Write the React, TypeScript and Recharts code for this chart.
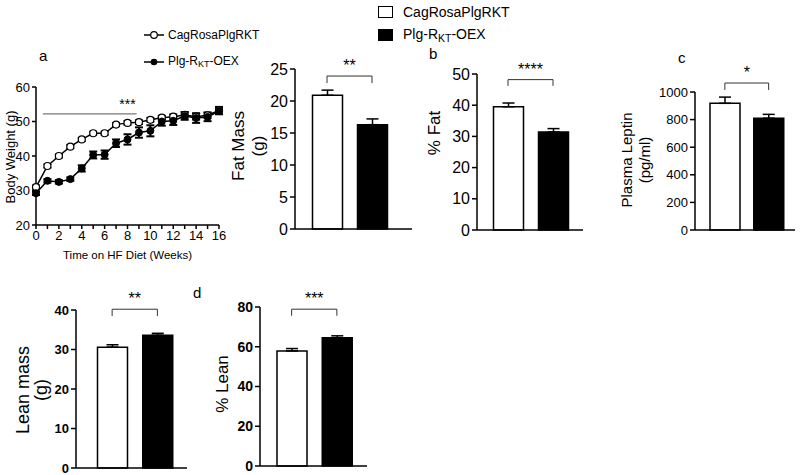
import React from 'react';
import {
  BarChart, Bar, Cell, XAxis, YAxis, ErrorBar, ReferenceLine, LineChart, Line,
} from 'recharts';

const groups = ['CagRosaPlgRKT', 'Plg-RKT-OEX'];

// body weight over time on HF diet
const weeks = [0, 1, 2, 3, 4, 5, 6, 7, 8, 9, 10, 11, 12, 13, 14, 15, 16];
const ctrlWeight = [31.0, 37.1, 40.0, 42.7, 44.8, 46.6, 46.6, 49.1, 49.6, 49.8, 50.5, 51.1, 51.4, 51.9, 51.4, 51.8, 53.2];
const ctrlWeightErr = [0.5, 0.5, 0.5, 0.5, 0.5, 0.5, 0.5, 0.5, 0.6, 0.6, 0.6, 0.6, 0.7, 0.9, 0.9, 0.9, 1.1];
const oexWeight = [29.2, 32.8, 32.5, 33.3, 36.4, 40.3, 40.4, 43.7, 44.8, 46.8, 47.3, 50.0, 50.2, 51.6, 51.0, 51.3, 53.0];
const oexWeightErr = [0.5, 0.5, 0.5, 0.5, 0.9, 1.0, 1.2, 1.1, 1.5, 1.5, 1.6, 1.2, 1.2, 1.1, 1.4, 1.2, 0.9];

// bar panels: [CagRosaPlgRKT, Plg-RKT-OEX]
const fatMass = [20.9, 16.3];
const fatMassErr = [0.8, 0.9];
const fatPct = [39.5, 31.4];
const fatPctErr = [1.2, 1.1];
const leptin = [918, 810];
const leptinErr = [45, 28];
const leanMass = [30.6, 33.6];
const leanMassErr = [0.6, 0.5];
const leanPct = [57.9, 64.5];
const leanPctErr = [1.2, 1.0];

const FONT = '"Liberation Sans", Arial, Helvetica, sans-serif';
const AXIS = { stroke: '#000', strokeWidth: 1.5 };

const lineRows = weeks.map((w, i) => ({
  week: w,
  ctrl: ctrlWeight[i],
  ctrlErr: ctrlWeightErr[i],
  oex: oexWeight[i],
  oexErr: oexWeightErr[i],
}));

// plot area = [top+30, top+height-15]
function BarPanel(props: any) {
  const { left, top, width, height, yWidth, values, errs, domain, ticks, pad, sig, fontSize, bold } = props;
  const data = groups.map((g, i) => ({ group: g, value: values[i], err: [0, errs[i]] }));
  return (
    <div style={{ position: 'absolute', left, top }}>
      <BarChart width={width} height={height} data={data} margin={{ top: 30, right: 5, bottom: 10, left: 0 }}>
        <XAxis dataKey="group" tick={false} tickLine={false} height={5} padding={pad} axisLine={AXIS} />
        <YAxis
          domain={domain} ticks={ticks} width={yWidth} interval={0} tickSize={5}
          tick={{ fontSize, fill: '#000', fontWeight: bold ? 700 : 400 }}
          axisLine={AXIS} tickLine={AXIS}
        />
        <Bar dataKey="value" barSize={30} stroke="#000" strokeWidth={1.5} isAnimationActive={false}>
          {data.map((d, i) => <Cell key={d.group} fill={i === 0 ? '#fff' : '#000'} />)}
          <ErrorBar dataKey="err" width={6} stroke="#000" strokeWidth={1.5} direction="y" />
        </Bar>
        <ReferenceLine
          segment={[{ x: groups[0], y: sig.top }, { x: groups[1], y: sig.top }]}
          stroke="#333" ifOverflow="visible"
          label={{ value: sig.text, position: 'top', fill: '#000', fontSize: 16 }}
        />
        <ReferenceLine segment={[{ x: groups[0], y: sig.top }, { x: groups[0], y: sig.leg }]} stroke="#333" ifOverflow="visible" />
        <ReferenceLine segment={[{ x: groups[1], y: sig.top }, { x: groups[1], y: sig.leg }]} stroke="#333" ifOverflow="visible" />
      </BarChart>
    </div>
  );
}

function Txt({ x, y, size, bold, children }: any) {
  return (
    <div style={{
      position: 'absolute', left: x, top: y, transform: 'translateY(-50%)',
      fontSize: size, fontWeight: bold ? 700 : 400, whiteSpace: 'nowrap', lineHeight: 1,
    }}>
      {children}
    </div>
  );
}

// rotated y-axis title, centred on (x, y)
function RotLabel({ x, y, size, lines, lh = 1.2 }: any) {
  return (
    <div style={{
      position: 'absolute', left: x, top: y, transform: 'translate(-50%, -50%) rotate(-90deg)',
      fontSize: size, whiteSpace: 'nowrap', textAlign: 'center', lineHeight: lh,
    }}>
      {lines.map((l: string) => <div key={l}>{l}</div>)}
    </div>
  );
}

const OexName = () => (
  <span>Plg-R<span style={{ fontSize: '0.75em', verticalAlign: '-0.25em' }}>KT</span>-OEX</span>
);

export default function App() {
  return (
    <div style={{
      position: 'absolute', left: 0, top: 0, width: 800, height: 475, background: '#fff',
      overflow: 'hidden', fontFamily: FONT, color: '#000',
    }}>
      {/* main legend */}
      <div style={{ position: 'absolute', left: 378, top: 6, width: 15, height: 12, border: '1.5px solid #000', boxSizing: 'border-box' }} />
      <Txt x={403} y={12} size={14}>CagRosaPlgRKT</Txt>
      <div style={{ position: 'absolute', left: 378, top: 29, width: 15, height: 12, background: '#000' }} />
      <Txt x={403} y={35} size={14}><OexName /></Txt>

      {/* a: body weight */}
      <svg style={{ position: 'absolute', left: 143, top: 28 }} width={22} height={40}>
        <line x1={1} y1={7} x2={21} y2={7} stroke="#000" strokeWidth={1.5} />
        <circle cx={11} cy={7} r={3.3} fill="#fff" stroke="#000" strokeWidth={1.2} />
        <line x1={1} y1={34} x2={21} y2={34} stroke="#000" strokeWidth={1.5} />
        <circle cx={11} cy={34} r={3.3} fill="#000" />
      </svg>
      <Txt x={168} y={35} size={12}>CagRosaPlgRKT</Txt>
      <Txt x={168} y={62} size={12}><OexName /></Txt>
      <Txt x={39} y={55} size={15}>a</Txt>
      <RotLabel x={11} y={157} size={13} lines={['Body Weight (g)']} />
      <div style={{ position: 'absolute', left: 0, top: 57 }}>
        <LineChart width={229} height={198} data={lineRows} margin={{ top: 30, right: 10, bottom: 5, left: 0 }}>
          <XAxis
            type="number" dataKey="week" domain={[0, 16]} ticks={weeks} interval={0}
            tickFormatter={(v: number) => (v % 2 === 0 ? String(v) : '')}
            height={25} tickSize={4} tick={{ fontSize: 13, fill: '#000' }} axisLine={AXIS} tickLine={AXIS}
          />
          <YAxis
            domain={[20, 60]} ticks={[20, 30, 40, 50, 60]} width={36} interval={0} tickSize={4}
            tick={{ fontSize: 13, fill: '#000' }} axisLine={AXIS} tickLine={AXIS}
          />
          <ReferenceLine segment={[{ x: 0.6, y: 52.2 }, { x: 8.8, y: 52.2 }]} stroke="#555" />
          <ReferenceLine
            segment={[{ x: 7.4, y: 52.2 }, { x: 8.6, y: 52.2 }]} stroke="none"
            label={{ value: '***', position: 'top', fill: '#000', fontSize: 14 }}
          />
          <Line
            dataKey="ctrl" stroke="#000" strokeWidth={1.5} isAnimationActive={false}
            dot={{ r: 3.5, fill: '#fff', stroke: '#000', strokeWidth: 1.2 }}
          >
            <ErrorBar dataKey="ctrlErr" width={4} stroke="#000" strokeWidth={1.5} />
          </Line>
          <Line
            dataKey="oex" stroke="#000" strokeWidth={1.5} isAnimationActive={false}
            dot={{ r: 3.5, fill: '#000', stroke: '#000', strokeWidth: 1 }}
          >
            <ErrorBar dataKey="oexErr" width={4} stroke="#000" strokeWidth={2} />
          </Line>
        </LineChart>
      </div>
      <Txt x={63} y={256} size={11.5}>Time on HF Diet (Weeks)</Txt>

      {/* fat mass */}
      <RotLabel x={249} y={146} size={17} lines={['Fat Mass', '(g)']} />
      <BarPanel
        left={255} top={39} width={162} height={205} yWidth={40}
        values={fatMass} errs={fatMassErr} domain={[0, 25]} ticks={[0, 5, 10, 15, 20, 25]}
        pad={{ left: 9.5, right: 17.5 }} sig={{ top: 23.9, leg: 22.8, text: '**' }} fontSize={16}
      />

      {/* b: % fat */}
      <Txt x={429} y={53} size={15}>b</Txt>
      <RotLabel x={435} y={133} size={17} lines={['% Fat']} />
      <BarPanel
        left={437} top={44} width={151} height={201} yWidth={40}
        values={fatPct} errs={fatPctErr} domain={[0, 50]} ticks={[0, 10, 20, 30, 40, 50]}
        pad={{ left: 8.5, right: 7.5 }} sig={{ top: 48.2, leg: 46.2, text: '****' }} fontSize={16}
      />

      {/* c: plasma leptin */}
      <Txt x={678} y={57} size={15}>c</Txt>
      <RotLabel x={636} y={160} size={15} lines={['Plasma Leptin', '(pg/ml)']} />
      <BarPanel
        left={650} top={62} width={150} height={183} yWidth={45}
        values={leptin} errs={leptinErr} domain={[0, 1000]} ticks={[0, 200, 400, 600, 800, 1000]}
        pad={{ left: 8, right: 4.5 }} sig={{ top: 1065, leg: 1015, text: '*' }} fontSize={13}
      />

      {/* lean mass */}
      <RotLabel x={32} y={390} size={18} lines={['Lean mass', '(g)']} lh={1} />
      <BarPanel
        left={36} top={280} width={156} height={203} yWidth={40}
        values={leanMass} errs={leanMassErr} domain={[0, 40]} ticks={[0, 10, 20, 30, 40]}
        pad={{ left: 13.5, right: 7 }} sig={{ top: 40.2, leg: 38.5, text: '**' }} fontSize={13} bold
      />

      {/* d: % lean */}
      <Txt x={193} y={292} size={15}>d</Txt>
      <RotLabel x={223} y={384} size={17} lines={['% Lean']} />
      <BarPanel
        left={220} top={277} width={152} height={204} yWidth={40}
        values={leanPct} errs={leanPctErr} domain={[0, 80]} ticks={[0, 20, 40, 60, 80]}
        pad={{ left: 9, right: 7.5 }} sig={{ top: 78.9, leg: 75.6, text: '***' }} fontSize={14} bold
      />
    </div>
  );
}
